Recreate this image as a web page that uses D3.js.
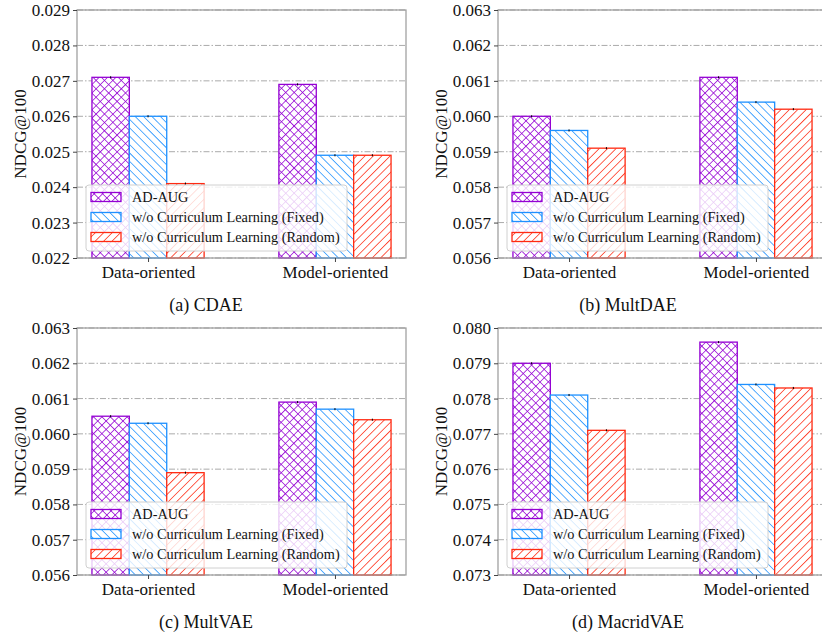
<!DOCTYPE html>
<html>
<head>
<meta charset="utf-8">
<script src="https://cdn.jsdelivr.net/npm/d3@7"></script>
<style>
  body{margin:0;background:#fff;}
  svg{display:block;font-family:"Liberation Serif","Times New Roman",serif;}
</style>
</head>
<body>
<div id="chart"></div>
<script>
// NDCG@100 – ablation of curriculum learning, 4 backbones

const groups   = ["Data-oriented", "Model-oriented"];
const methods  = ["AD-AUG", "w/o Curriculum Learning (Fixed)", "w/o Curriculum Learning (Random)"];
const captions = ["(a) CDAE", "(b) MultDAE", "(c) MultVAE", "(d) MacridVAE"];

// values[group][method]
const cdaeValues    = [[0.0271, 0.0260, 0.0241], [0.0269, 0.0249, 0.0249]];
const multdaeValues = [[0.0600, 0.0596, 0.0591], [0.0611, 0.0604, 0.0602]];
const multvaeValues = [[0.0605, 0.0603, 0.0589], [0.0609, 0.0607, 0.0604]];
const macridValues  = [[0.0790, 0.0781, 0.0771], [0.0796, 0.0784, 0.0783]];

// tiny std errors
const cdaeErr    = [[0.00003, 0.00003, 0.00003], [0.00003, 0.00003, 0.00003]];
const multdaeErr = [[0.00003, 0.00003, 0.00003], [0.00003, 0.00003, 0.00003]];
const multvaeErr = [[0.00003, 0.00003, 0.00003], [0.00003, 0.00003, 0.00003]];
const macridErr  = [[0.00003, 0.00003, 0.00003], [0.00003, 0.00003, 0.00003]];

const cdaeTicks    = [0.022, 0.023, 0.024, 0.025, 0.026, 0.027, 0.028, 0.029];
const multdaeTicks = [0.056, 0.057, 0.058, 0.059, 0.060, 0.061, 0.062, 0.063];
const multvaeTicks = [0.056, 0.057, 0.058, 0.059, 0.060, 0.061, 0.062, 0.063];
const macridTicks  = [0.073, 0.074, 0.075, 0.076, 0.077, 0.078, 0.079, 0.080];

const panels = [
  {values: cdaeValues,    err: cdaeErr,    ticks: cdaeTicks,    caption: captions[0]},
  {values: multdaeValues, err: multdaeErr, ticks: multdaeTicks, caption: captions[1]},
  {values: multvaeValues, err: multvaeErr, ticks: multvaeTicks, caption: captions[2]},
  {values: macridValues,  err: macridErr,  ticks: macridTicks,  caption: captions[3]}
];

// layout
const W = 822, H = 635;
const axW = 329;
const cells = [
  {left: 77,  top: 10,  bottom: 258, capX: 206, catY: 278, capY: 311},
  {left: 498, top: 10,  bottom: 258, capX: 628, catY: 278, capY: 311},
  {left: 77,  top: 328, bottom: 575, capX: 206, catY: 595, capY: 628},
  {left: 498, top: 328, bottom: 575, capX: 628, catY: 595, capY: 628}
];
const colors  = ["#9400d3", "#1e90ff", "#ff2a12"];
const hatchDirs = [["\\", "/"], ["\\"], ["/"]];   // x, backslash, slash
const offsets = [-0.2, 0, 0.2];
const barW = 0.2;
const STEP = 8.4;
const LW = 1.05;   // horizontal width of a hatch strip

const svg = d3.select("#chart").append("svg").attr("width", W).attr("height", H);
const defs = svg.append("defs");
let clipId = 0;

// hatched box: white fill, clipped diagonal strips (filled, not stroked), coloured edge
function hatchBox(parent, x0, y0, w, h, mi, sw){
  const id = "clip" + (clipId++);
  defs.append("clipPath").attr("id", id)
    .append("rect").attr("x", x0).attr("y", y0).attr("width", w).attr("height", h);
  const b = parent.append("g");
  b.append("rect").attr("x", x0).attr("y", y0).attr("width", w).attr("height", h).attr("fill", "#fff");
  const hg = b.append("g").attr("clip-path", `url(#${id})`);
  const top = y0, hh = h + 2;
  hatchDirs[mi].forEach(dir => {
    const start = Math.floor((x0 - hh) / STEP) * STEP;
    const strips = d3.range(start, x0 + w + STEP, STEP);
    hg.selectAll(null).data(strips).join("path")
      .attr("d", a => dir === "\\"
        ? `M${a},${top}L${a + LW},${top}L${a + LW + hh},${top + hh}L${a + hh},${top + hh}Z`
        : `M${a},${top + hh}L${a + LW},${top + hh}L${a + LW + hh},${top}L${a + hh},${top}Z`)
      .style("fill", colors[mi]).style("stroke", "none");
  });
  b.append("rect").attr("x", x0).attr("y", y0).attr("width", w).attr("height", h)
    .style("fill", "none").style("stroke", colors[mi]).style("stroke-width", sw);
}

panels.forEach((pan, pi) => {
  const c = cells[pi];
  const g = svg.append("g");

  const x = d3.scaleLinear().domain([-0.38, 1.38]).range([c.left, c.left + axW]);
  const y = d3.scaleLinear().domain(d3.extent(pan.ticks)).range([c.bottom, c.top]);

  // grid
  g.append("g").selectAll("line").data(pan.ticks).join("line")
    .attr("x1", c.left).attr("x2", c.left + axW)
    .attr("y1", d => y(d)).attr("y2", d => y(d))
    .attr("stroke", "#aaa").attr("stroke-width", 1)
    .attr("stroke-dasharray", "6,2,1.5,2");

  // bars
  const bars = [];
  pan.values.forEach((row, gi) => row.forEach((v, mi) =>
    bars.push({gi, mi, v, e: pan.err[gi][mi]})));

  const bg = g.append("g");
  bars.forEach(d => {
    const x0 = x(d.gi + offsets[d.mi] - barW / 2);
    const w  = x(barW) - x(0);
    hatchBox(bg, x0, y(d.v), w, c.bottom - y(d.v), d.mi, 1.3);
  });

  // error bars
  g.append("g").selectAll("line").data(bars).join("line")
    .attr("x1", d => x(d.gi + offsets[d.mi])).attr("x2", d => x(d.gi + offsets[d.mi]))
    .attr("y1", d => y(d.v + d.e)).attr("y2", d => y(d.v - d.e))
    .attr("stroke", "#000").attr("stroke-width", 1);

  // spines
  g.append("rect").attr("x", c.left).attr("y", c.top)
    .attr("width", axW).attr("height", c.bottom - c.top)
    .attr("fill", "none").attr("stroke", "#999").attr("stroke-width", 1.2);

  // y axis
  const ya = g.append("g").attr("transform", `translate(${c.left},0)`)
    .call(d3.axisLeft(y).tickValues(pan.ticks).tickFormat(d3.format(".3f")).tickSize(4).tickPadding(3));
  ya.attr("font-family", null);
  ya.select(".domain").remove();
  ya.selectAll(".tick line").attr("stroke", "#444");
  ya.selectAll("text").attr("font-size", 17).attr("fill", "#111");

  // x axis
  const xa = g.append("g").attr("transform", `translate(0,${c.bottom})`)
    .call(d3.axisBottom(x).tickValues([0, 1]).tickFormat(d => groups[d]).tickSize(4).tickPadding(3));
  xa.attr("font-family", null);
  xa.select(".domain").remove();
  xa.selectAll(".tick line").attr("stroke", "#444");
  xa.selectAll("text").attr("font-size", 17).attr("fill", "#111")
    .attr("y", c.catY - c.bottom).attr("dy", null);

  // y label
  g.append("text")
    .attr("transform", `translate(${c.left - 57},${(c.top + c.bottom) / 2}) rotate(-90)`)
    .attr("text-anchor", "middle").attr("dominant-baseline", "central")
    .attr("font-size", 17).attr("fill", "#111").text("NDCG@100");

  // caption
  g.append("text").attr("x", c.capX).attr("y", c.capY)
    .attr("text-anchor", "middle").attr("font-size", 18).attr("fill", "#111")
    .text(pan.caption);

  // legend
  const lx = c.left + 9, ly = c.bottom - 73;
  const lg = g.append("g");
  lg.append("rect").attr("x", lx).attr("y", ly).attr("width", 261).attr("height", 66).attr("rx", 3)
    .attr("fill", "#fff").attr("fill-opacity", 0.8)
    .attr("stroke", "#d0d0d0").attr("stroke-width", 1);
  methods.forEach((m, i) => {
    const ry = ly + 12 + i * 20;
    hatchBox(lg, lx + 5, ry - 4.5, 30, 9, i, 1.3);
    lg.append("text").attr("x", lx + 46).attr("y", ry).attr("dominant-baseline", "central")
      .attr("font-size", 14.3).attr("fill", "#111").text(m);
  });
});
</script>
</body>
</html>
